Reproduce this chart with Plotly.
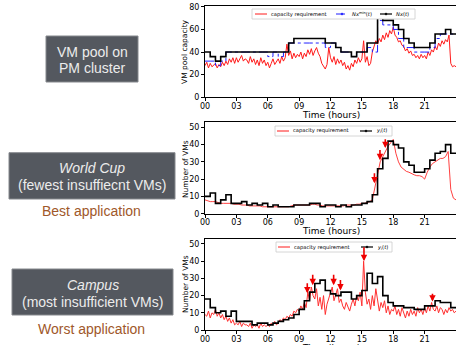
import numpy as np
import plotly.graph_objects as go

W, H = 456, 345

# ---------------- data ----------------
# step series: one value per half hour (00:00 ... 23:30)
pool_nx = [40, 36, 32, 36, 40, 40, 40, 40, 40, 40, 40, 40, 40, 40, 40, 40,
           48, 52, 52, 52, 52, 52, 52, 48, 48, 44, 40, 40, 36, 40, 40, 48,
           48, 72, 68, 68, 64, 60, 52, 48, 44, 44, 44, 48, 56, 56, 60, 56]
pool_nxmin = [32, 32, 28, 32, 40, 40, 40, 40, 40, 40, 40, 40, 36, 40, 36, 40,
              48, 48, 48, 48, 48, 48, 48, 44, 48, 44, 40, 40, 36, 40, 40, 44,
              40, 68, 64, 64, 60, 52, 44, 44, 40, 40, 40, 44, 52, 56, 56, 56]
# capacity requirement, one value per 10 minutes (plus 24:00)
pool_req = [28, 31, 26, 30, 27, 29,
            30, 26, 29, 27, 31, 28,
            32, 29, 34, 31, 35, 30,
            35, 31, 34, 37, 32, 34,
            33, 30, 36, 31, 34, 29,
            33, 28, 35, 30, 33, 28,
            31, 26, 30, 34, 29, 32,
            34, 30, 36, 32, 35, 47,
            37, 41, 34, 39, 35, 38,
            36, 40, 34, 39, 36, 42,
            38, 43, 37, 41, 44, 39,
            36, 30, 27, 25, 29, 44,
            35, 31, 36, 29, 34, 30,
            33, 28, 31, 25, 28, 24,
            30, 27, 33, 30, 35, 31,
            34, 50, 31, 36, 28, 30,
            40, 46, 50, 47, 52, 49,
            55, 51, 57, 53, 59, 56,
            62, 55, 53, 49, 50, 46,
            45, 41, 43, 39, 41, 37,
            38, 35, 37, 34, 38, 35,
            37, 34, 40, 37, 42, 40,
            45, 42, 48, 45, 50, 47,
            51, 49, 55, 30, 27, 28, 27]

wc_y = [10, 12, 6, 8, 11, 6, 6, 7, 5, 6, 5, 6, 4, 5, 4, 4,
        4, 5, 5, 5, 6, 6, 4, 5, 5, 4, 5, 4, 5, 5, 6, 7,
        11, 26, 32, 42, 40, 38, 30, 28, 24, 24, 26, 31, 35, 36, 40, 35]
# capacity requirement, one value per 15 minutes (plus 24:00)
wc_req = [8, 7.5, 7, 7,
          7, 6.5, 6, 6,
          6, 6, 6, 5.5,
          5.5, 5.5, 5, 5,
          5, 4.5, 4.5, 4.5,
          4.5, 4.5, 4, 4,
          4, 4, 4, 4,
          4, 4, 4, 4,
          4, 4.5, 5, 5,
          5, 5, 5, 5,
          5, 5.5, 5.5, 5,
          5, 4.5, 4.5, 4.5,
          4.5, 4.5, 4.5, 4.5,
          4.5, 4.5, 5, 5,
          5, 5, 5.5, 5.5,
          6, 6, 6.5, 7,
          8, 15, 24, 30,
          33, 36, 39, 41,
          43, 35, 30, 27,
          25.5, 24.5, 24, 23,
          22.5, 22, 22, 21.5,
          20, 24, 27, 29,
          30, 31, 32, 32,
          33, 36, 14, 9, 8]

campus_y = [18, 13, 10, 11, 8, 11, 5, 5, 5, 3, 4, 4, 3, 4, 5, 6,
            7, 9, 12, 17, 22, 27, 29, 23, 21, 20, 22, 22, 18, 20, 23, 33,
            27, 31, 20, 16, 14, 14, 13, 13, 12, 12, 14, 14, 17, 16, 16, 13]
campus_req = [9, 8, 11, 7, 10, 9,
              12, 8, 10, 7, 9, 6,
              8, 5, 7, 4, 6, 3,
              4, 3, 5, 2, 4, 3,
              3, 2, 4, 1, 3, 2,
              3, 1, 4, 2, 3, 2,
              3, 2, 4, 3, 5, 3,
              4, 6, 5, 7, 6, 8,
              7, 9, 8, 11, 10, 12,
              11, 14, 12, 16, 13, 22,
              17, 25, 20, 18, 24, 14,
              19, 12, 20, 9, 15, 18,
              21, 25, 17, 20, 24, 16,
              18, 14, 12, 16, 13, 11,
              15, 18, 14, 20, 17, 22,
              14, 40, 22, 15, 18, 12,
              20, 14, 24, 18, 11, 16,
              13, 17, 10, 14, 9, 12,
              11, 14, 9, 12, 8, 13,
              10, 7, 11, 8, 12, 9,
              11, 8, 13, 10, 12, 9,
              13, 10, 14, 11, 16, 12,
              11, 14, 10, 13, 12, 9,
              12, 10, 13, 11, 12, 10, 11]

# red arrows marking insufficient VMs: hour, tip value, tail value
wc_arrow_x = [16.2, 16.73, 17.24]
wc_arrow_tip = [17.6, 31, 38]
wc_arrow_tail = [24.3, 37.8, 44]
campus_arrow_x = [9.78, 10.3, 12.3, 12.95, 15.2, 21.75]
campus_arrow_tip = [21.3, 26, 26, 23, 40, 16.5]
campus_arrow_tail = [28, 33, 33, 30, 49, 22]

tick_vals = [0, 3, 6, 9, 12, 15, 18, 21, 24]
tick_text = ['00', '03', '06', '09', '12', '15', '18', '21', '00']

# ---------------- helpers ----------------
def px(x):
    return x / W

def py(y):
    return 1 - y / H

half_hours = np.arange(0, 24.5, 0.5)

def step(vals):
    return list(vals) + [vals[-1]]

def req_x(vals):
    n = len(vals) - 1
    return np.arange(len(vals)) * 24.0 / n

fig = go.Figure()

RED = '#ff1a1a'
# plot 1
fig.add_trace(go.Scatter(x=req_x(pool_req), y=pool_req, mode='lines',
                         line=dict(color=RED, width=1), xaxis='x', yaxis='y'))
fig.add_trace(go.Scatter(x=half_hours, y=step(pool_nxmin), mode='lines', line_shape='hv',
                         line=dict(color='#1f1fff', width=1, dash='dashdot'), xaxis='x', yaxis='y'))
fig.add_trace(go.Scatter(x=half_hours, y=step(pool_nx), mode='lines', line_shape='hv',
                         line=dict(color='black', width=1.6), xaxis='x', yaxis='y'))
# plot 2
fig.add_trace(go.Scatter(x=req_x(wc_req), y=wc_req, mode='lines',
                         line=dict(color='#ff4040', width=1), xaxis='x2', yaxis='y2'))
fig.add_trace(go.Scatter(x=half_hours, y=step(wc_y), mode='lines', line_shape='hv',
                         line=dict(color='black', width=1.6), xaxis='x2', yaxis='y2'))
# plot 3
fig.add_trace(go.Scatter(x=req_x(campus_req), y=campus_req, mode='lines',
                         line=dict(color='#ff3030', width=1), xaxis='x3', yaxis='y3'))
fig.add_trace(go.Scatter(x=half_hours, y=step(campus_y), mode='lines', line_shape='hv',
                         line=dict(color='black', width=1.6), xaxis='x3', yaxis='y3'))

xdom = [px(205), 1.0]
axis_common = dict(showline=True, linecolor='black', linewidth=1, mirror=True,
                   ticks='outside', ticklen=3, tickwidth=1, tickcolor='black',
                   showgrid=False, zeroline=False, automargin=False,
                   tickfont=dict(family='DejaVu Sans', size=8, color='black'))

def xax(anchor):
    d = dict(axis_common)
    d.update(domain=xdom, range=[0, 24], tickvals=tick_vals, ticktext=tick_text, anchor=anchor,
             ticklabelstandoff=-2)
    return d

def yax(anchor, dom, rng, dtick):
    d = dict(axis_common)
    d.update(domain=dom, range=rng, dtick=dtick, anchor=anchor)
    return d

fig.update_layout(
    width=W, height=H, margin=dict(l=0, r=0, t=0, b=0, autoexpand=False),
    paper_bgcolor='white', plot_bgcolor='white', showlegend=False,
    xaxis=xax('y'), xaxis2=xax('y2'), xaxis3=xax('y3'),
    yaxis=yax('x', [py(97.3), py(5.7)], [0, 81], 20),
    yaxis2=yax('x2', [py(213.7), py(122.3)], [0, 52.9], 10),
    yaxis3=yax('x3', [py(330), py(239)], [0, 52.9], 10),
)

annotations = []
shapes = []

# axis titles
for yc in [114.5, 231, 348]:
    annotations.append(dict(text='Time (hours)', x=px(330.5), y=py(yc), xref='paper', yref='paper',
                            showarrow=False, xanchor='center', yanchor='middle',
                            font=dict(family='DejaVu Sans', size=9, color='black')))
for txt, yc in [('VM pool capacity', 52), ('Number of VMs', 169), ('Number of VMs', 284)]:
    annotations.append(dict(text=txt, x=px(185), y=py(yc), xref='paper', yref='paper',
                            showarrow=False, textangle=-90, xanchor='center', yanchor='middle',
                            font=dict(family='DejaVu Sans', size=7.5, color='black')))

# red arrows
for xs, tips, tails, ax_x, ax_y in [(wc_arrow_x, wc_arrow_tip, wc_arrow_tail, 'x2', 'y2'),
                                     (campus_arrow_x, campus_arrow_tip, campus_arrow_tail, 'x3', 'y3')]:
    for xv, tv, av in zip(xs, tips, tails):
        annotations.append(dict(x=xv, y=tv, ax=xv, ay=av, xref=ax_x, yref=ax_y,
                                axref=ax_x, ayref=ax_y, text='', showarrow=True,
                                arrowhead=2, arrowsize=0.8, arrowwidth=1.6, arrowcolor='#ee0000',
                                standoff=0))

# legends (drawn by hand to match the compact matplotlib style)
LF = dict(family='DejaVu Sans', size=5.2, color='black')

def legend(box, yc, entries):
    shapes.append(dict(type='rect', xref='paper', yref='paper',
                       x0=px(box[0]), x1=px(box[1]), y0=py(yc + 5), y1=py(yc - 5),
                       line=dict(color='#cccccc', width=0.8), fillcolor='white'))
    for x0, color, dash, width, label, has_marker in entries:
        shapes.append(dict(type='line', xref='paper', yref='paper',
                           x0=px(x0), x1=px(x0 + 12), y0=py(yc), y1=py(yc),
                           line=dict(color=color, width=width, dash=dash)))
        if has_marker:
            shapes.append(dict(type='circle', xref='paper', yref='paper',
                               x0=px(x0 + 5), x1=px(x0 + 7), y0=py(yc + 1), y1=py(yc - 1),
                               line=dict(color=color, width=0.5), fillcolor=color))
        annotations.append(dict(text=label, x=px(x0 + 14), y=py(yc), xref='paper', yref='paper',
                                showarrow=False, xanchor='left', yanchor='middle', font=LF))

legend((252, 415), 14, [(255, RED, 'solid', 1, 'capacity requirement', False),
                        (336, '#1f1fff', 'dashdot', 1, '<i>Nx</i><sup>min</sup>(<i>t</i>)', True),
                        (380, 'black', 'solid', 1.2, '<i>Nx</i>(<i>t</i>)', True)])
legend((275, 392), 131, [(277, RED, 'solid', 1, 'capacity requirement', False),
                         (360, 'black', 'solid', 1.2, '<i>y<sub>i</sub></i>(<i>t</i>)', True)])
legend((276, 392), 247, [(278, RED, 'solid', 1, 'capacity requirement', False),
                         (361, 'black', 'solid', 1.2, '<i>y<sub>i</sub></i>(<i>t</i>)', True)])

# slide boxes on the left
BOX = '#54585f'
TXT = '#ececec'
SF = 'Liberation Sans'
for (x0, x1, y0, y1) in [(46, 138, 36, 82), (9, 175, 152.7, 199), (12, 173, 269, 315)]:
    shapes.append(dict(type='rect', xref='paper', yref='paper',
                       x0=px(x0), x1=px(x1), y0=py(y1), y1=py(y0),
                       line=dict(color='#85888d', width=1), fillcolor=BOX))

for txt, xc, yc, color in [('VM pool on', 92, 51.7, TXT), ('PM cluster', 92, 68.3, TXT),
                           ('<i>World Cup</i>', 92, 168.3, TXT),
                           ('(fewest insuffiecnt VMs)', 92, 185, TXT),
                           ('<i>Campus</i>', 92.5, 285, TXT),
                           ('(most insufficient VMs)', 92.5, 301.7, TXT),
                           ('Best application', 91.5, 210.7, '#a0582a'),
                           ('Worst application', 91.7, 329, '#a0582a')]:
    annotations.append(dict(text=txt, x=px(xc), y=py(yc), xref='paper', yref='paper',
                            showarrow=False, xanchor='center', yanchor='middle',
                            font=dict(family=SF, size=14, color=color)))

fig.update_layout(annotations=annotations, shapes=shapes)
fig.write_html('out.html', config={'displayModeBar': False},
               post_script="document.body.style.margin='0';document.body.style.overflow='hidden';")
